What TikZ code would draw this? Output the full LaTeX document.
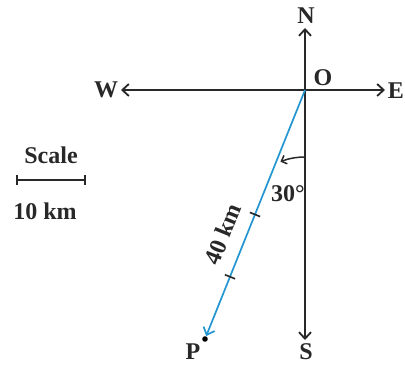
\documentclass[tikz,border=0pt]{standalone}
\usepackage{fontspec}
\setmainfont{Liberation Serif}
\usetikzlibrary{arrows.meta,calc}
\definecolor{lineblue}{RGB}{35,150,210}
\definecolor{ink}{RGB}{40,40,40}
\begin{document}
\begin{tikzpicture}[x=1pt,y=-1pt,
  lbl/.style={inner sep=0pt,text=ink,font=\fontsize{24}{27}\selectfont\bfseries},
  axis/.style={line width=1.8pt,ink,-{Straight Barb[length=6.5pt,width=12pt,line width=1.8pt]}},
  bluearrow/.style={line width=1.7pt,lineblue,-{Straight Barb[length=6.5pt,width=12pt,line width=1.7pt]}},
  tickmark/.style={line width=1.6pt,ink}]
\useasboundingbox (0,0) rectangle (405,366);
\fill[white] (0,0) rectangle (405,366);
\coordinate (O) at (305,90);
\coordinate (Ntip) at (305,28);
\coordinate (Stip) at (305,340);
\coordinate (Etip) at (385,90);
\coordinate (Wtip) at (121,90);
\coordinate (P) at (205,339);
% axes
\draw[axis] (O) -- (Ntip);
\draw[axis] (O) -- (Stip);
\draw[axis] (O) -- (Etip);
\draw[axis] (O) -- (Wtip);
% labels
\node[lbl] (N) at (306,16) {N};
\node[lbl] (S) at (306,352) {S};
\node[lbl] (E) at (396,91) {E};
\node[lbl] (W) at (106,90) {W};
\node[lbl] (Olab) at (323,78) {O};
% OP line
\draw[bluearrow] (O) -- ($(P)!0.012!(O)$);
\fill[black] (P) circle (2.8pt);
\node[lbl] (Plab) at (193,352) {P};
% tick marks at 20 km and 30 km
\foreach \f/\nm in {0.5/ta,0.75/tb}{
  \coordinate (\nm) at ($(O)!\f!(P)$);
  \draw[tickmark] ($(\nm)!5.5pt!90:(O)$) -- ($(\nm)!5.5pt!-90:(O)$);
}
% angle arc
\draw[line width=1.5pt,ink,-{Straight Barb[length=4.5pt,width=9pt,line width=1.5pt]}]
  (305,157) arc[start angle=-90,end angle=-111.5,radius=67];
\node[lbl] (ang) at (288,194) {30°};
\node[lbl,rotate=68] (dist) at (223,234) {40 km};
% scale
\node[lbl] (scl) at (51,155) {Scale};
\coordinate (sa) at (17,180);
\coordinate (sb) at (85,180);
\draw[tickmark] (sa) -- (sb);
\draw[tickmark] ($(sa)+(0,-5)$) -- ($(sa)+(0,5)$);
\draw[tickmark] ($(sb)+(0,-5)$) -- ($(sb)+(0,5)$);
\node[lbl] (sclv) at (45,211) {10 km};
\end{tikzpicture}
\end{document}
